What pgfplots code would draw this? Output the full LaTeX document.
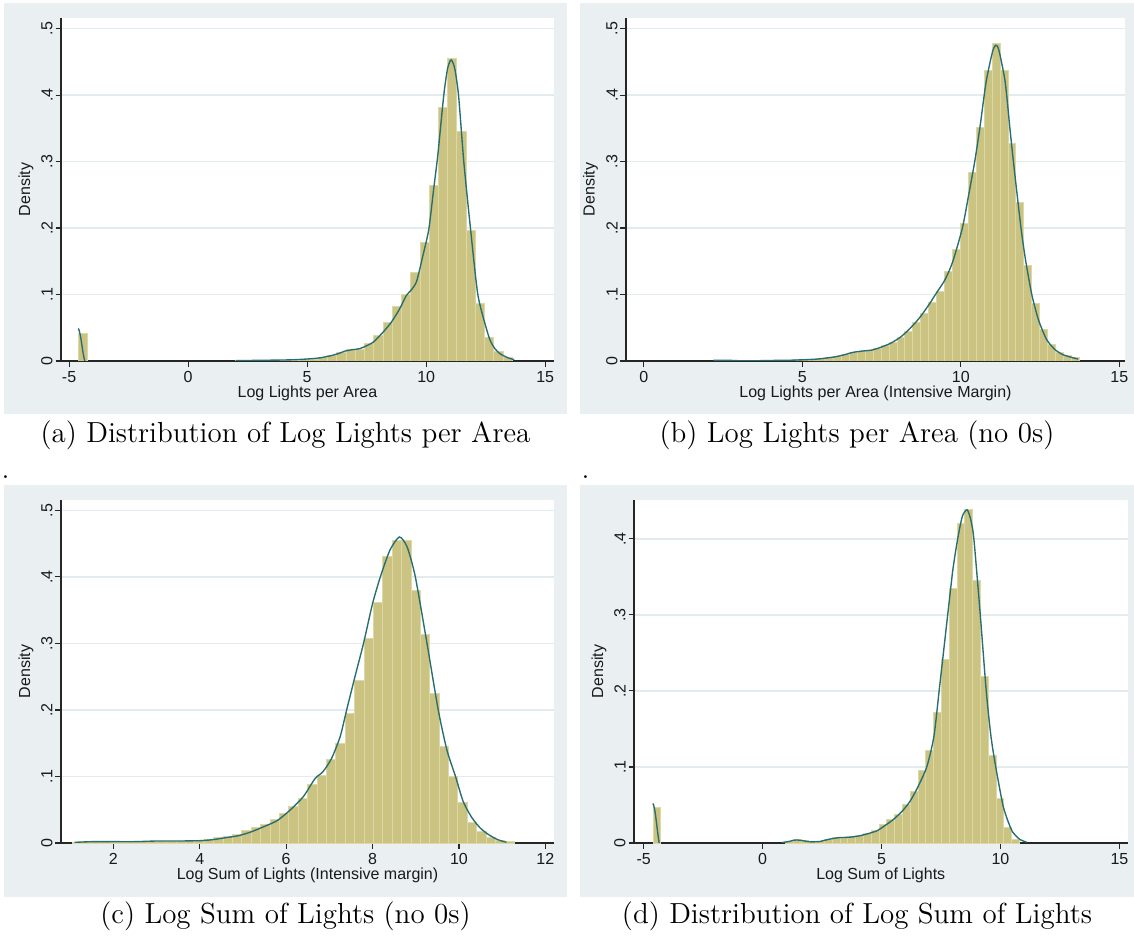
\documentclass[border=0pt]{standalone}
\usepackage{fontspec}
\newfontfamily\statafont{Liberation Sans}
\usepackage{pgfplots}
\pgfplotsset{compat=1.18}
\definecolor{bgc}{RGB}{234,240,242}
\definecolor{gridc}{RGB}{226,236,238}
\definecolor{barc}{RGB}{202,195,129}
\definecolor{barl}{RGB}{222,216,166}
\definecolor{kdc}{RGB}{40,110,112}
\newcommand\sfont{\statafont\fontsize{6.4}{7.5}\selectfont}
\pgfplotsset{
 stata/.style={
  scale only axis,
  axis background/.style={fill=white},
  axis x line*=bottom, axis y line*=left,
  axis line style={black!85, line width=0.45pt},
  tick style={black!85, line width=0.45pt},
  tick align=outside, major tick length=2.2pt,
  ymajorgrids,
  grid style={gridc, line width=0.6pt},
  ymin=0,
  tick label style={font=\sfont, text=black!90},
  xticklabel style={inner sep=1pt, yshift=-0.6pt},
  yticklabel style={rotate=90, anchor=south, inner sep=1pt, xshift=0pt},
  every axis y label/.style={at={(axis description cs:-0.071,0.5)}, rotate=90, anchor=center, inner sep=0pt, font=\sfont, text=black!90},
  every axis x label/.style={at={(axis description cs:0.5,-0.093)}, anchor=center, inner sep=0pt, font=\sfont, text=black!90},
  ylabel={Density},
 },
 hist/.style={ybar interval, fill=barc, draw=barl, line width=0.4pt},
 kd/.style={kdc, line width=0.55pt, smooth, tension=0.4, mark=none},
}
\begin{document}
\begin{tikzpicture}
\useasboundingbox (0,0) rectangle (453.6pt,378.4pt);
\fill[bgc] (1.6pt,212.8pt) rectangle (226.8pt,377.2pt);
\fill[bgc] (232pt,212.8pt) rectangle (453.6pt,377.2pt);
\fill[bgc] (1.6pt,19.6pt) rectangle (226.8pt,184.4pt);
\fill[bgc] (232pt,19.6pt) rectangle (453.6pt,184.4pt);

% (a)
\begin{axis}[stata, at={(24.4pt,234pt)}, anchor=south west, width=197.2pt, height=137.2pt,
 xmin=-5.34, xmax=15.37, ymax=0.516,
 xtick={-5,0,5,10,15}, xticklabels={-5,0,5,10,15},
 ytick={0,0.1,0.2,0.3,0.4,0.5}, yticklabels={0,.1,.2,.3,.4,.5},
 xlabel={Log Lights per Area}]
\addplot[hist] coordinates {(-4.61,0.042) (-4.222,0.042)};
\addplot[hist] coordinates {(1.984,0.001) (2.372,0.001) (2.760,0.001) (3.148,0.001) (3.536,0.001) (3.924,0.001) (4.312,0.001) (4.700,0.002) (5.088,0.003) (5.475,0.005) (5.863,0.008) (6.251,0.013) (6.639,0.017) (7.027,0.018) (7.415,0.027) (7.803,0.038) (8.191,0.058) (8.579,0.082) (8.967,0.100) (9.354,0.133) (9.742,0.179) (10.130,0.264) (10.518,0.382) (10.906,0.455) (11.294,0.346) (11.682,0.197) (12.070,0.087) (12.458,0.035) (12.846,0.014) (13.233,0.005) (13.621,0)};
\addplot[kd] coordinates {(-4.61,0.049) (-4.57,0.045) (-4.52,0.037) (-4.47,0.026) (-4.42,0.014) (-4.38,0.006) (-4.34,0)};
\addplot[kd] coordinates {(2.0,0.0005) (3.0,0.001) (4.0,0.0015) (4.5,0.002) (5.0,0.003) (5.5,0.0045) (6.0,0.008) (6.3,0.011) (6.6,0.015) (6.9,0.017) (7.2,0.0185) (7.5,0.023) (7.8,0.029) (8.18,0.043) (8.53,0.058) (8.88,0.078) (9.16,0.098) (9.4,0.108) (9.6,0.12) (9.86,0.158) (10.11,0.198) (10.32,0.26) (10.49,0.31) (10.74,0.4) (10.9,0.44) (11.05,0.453) (11.2,0.44) (11.36,0.4) (11.58,0.3) (11.86,0.2) (12.17,0.1) (12.52,0.05) (12.7,0.03) (12.9,0.018) (13.1,0.011) (13.3,0.007) (13.5,0.004) (13.7,0.002)};
\end{axis}

% (b)
\begin{axis}[stata, at={(250.4pt,234pt)}, anchor=south west, width=199.6pt, height=137.2pt,
 xmin=-0.56, xmax=15.18, ymax=0.516,
 xtick={0,5,10,15}, xticklabels={0,5,10,15},
 ytick={0,0.1,0.2,0.3,0.4,0.5}, yticklabels={0,.1,.2,.3,.4,.5},
 xlabel={Log Lights per Area (Intensive Margin)}]
\addplot[hist] coordinates {(2.24,0.001) (2.49,0.001) (2.74,0.0003) (2.99,0.0003) (3.24,0.0003) (3.49,0.0003) (3.74,0.0003) (3.99,0.001) (4.24,0.001) (4.49,0.001) (4.74,0.002) (4.99,0.002) (5.24,0.003) (5.49,0.004) (5.74,0.005) (5.99,0.007) (6.24,0.010) (6.49,0.013) (6.74,0.015) (6.99,0.016) (7.24,0.019) (7.49,0.023) (7.74,0.028) (7.99,0.036) (8.24,0.045) (8.49,0.058) (8.74,0.072) (8.99,0.088) (9.24,0.105) (9.49,0.135) (9.74,0.168) (9.99,0.207) (10.24,0.283) (10.49,0.352) (10.74,0.437) (10.99,0.478) (11.24,0.437) (11.49,0.327) (11.74,0.238) (11.99,0.144) (12.24,0.086) (12.49,0.048) (12.74,0.025) (12.99,0.013) (13.24,0.008) (13.49,0.005) (13.74,0)};
\addplot[kd] coordinates {(2.2,0.001) (2.6,0.0012) (3.0,0.0004) (3.5,0.0003) (4.0,0.0008) (4.5,0.001) (5.0,0.0018) (5.5,0.003) (6.0,0.006) (6.3,0.009) (6.6,0.013) (6.9,0.015) (7.2,0.0165) (7.5,0.021) (7.8,0.027) (8.1,0.036) (8.4,0.049) (8.7,0.065) (9.0,0.085) (9.2,0.1) (9.5,0.122) (9.75,0.15) (10.05,0.2) (10.25,0.25) (10.44,0.3) (10.6,0.35) (10.8,0.42) (11.0,0.465) (11.1,0.475) (11.2,0.468) (11.4,0.42) (11.55,0.35) (11.66,0.3) (11.9,0.2) (12.05,0.15) (12.24,0.1) (12.45,0.062) (12.7,0.033) (12.95,0.018) (13.2,0.01) (13.45,0.006) (13.7,0.003)};
\end{axis}

% (c)
\begin{axis}[stata, at={(24.4pt,41.2pt)}, anchor=south west, width=197.2pt, height=137.2pt,
 xmin=0.787, xmax=12.2, ymax=0.5156,
 xtick={2,4,6,8,10,12}, xticklabels={2,4,6,8,10,12},
 ytick={0,0.1,0.2,0.3,0.4,0.5}, yticklabels={0,.1,.2,.3,.4,.5},
 xlabel={Log Sum of Lights (Intensive margin)}]
\addplot[hist] coordinates {(1.06,0.001) (1.2775,0.002) (1.495,0.002) (1.7125,0.002) (1.93,0.001) (2.1475,0.001) (2.365,0.001) (2.5825,0.002) (2.8,0.002) (3.0175,0.003) (3.235,0.003) (3.4525,0.003) (3.67,0.003) (3.8875,0.004) (4.105,0.005) (4.3225,0.008) (4.54,0.010) (4.7575,0.013) (4.975,0.019) (5.1925,0.024) (5.41,0.028) (5.6275,0.036) (5.845,0.045) (6.0625,0.055) (6.28,0.067) (6.4975,0.088) (6.715,0.101) (6.9325,0.125) (7.15,0.150) (7.3675,0.195) (7.585,0.244) (7.8025,0.307) (8.02,0.361) (8.2375,0.431) (8.455,0.455) (8.6725,0.455) (8.89,0.380) (9.1075,0.313) (9.325,0.224) (9.5425,0.145) (9.76,0.100) (9.9775,0.061) (10.195,0.031) (10.4125,0.018) (10.63,0.008) (10.8475,0.004) (11.065,0.002) (11.2825,0)};
\addplot[kd] coordinates {(1.1,0.001) (1.5,0.002) (2.0,0.002) (2.5,0.002) (3.0,0.003) (3.5,0.003) (4.0,0.0035) (4.3,0.005) (4.6,0.008) (4.9,0.011) (5.2,0.017) (5.5,0.025) (5.8,0.034) (6.1,0.05) (6.4,0.07) (6.67,0.097) (6.85,0.107) (7.05,0.127) (7.25,0.16) (7.4,0.2) (7.6,0.252) (7.79,0.3) (8.0,0.36) (8.18,0.4) (8.4,0.44) (8.62,0.46) (8.8,0.445) (8.99,0.4) (9.26,0.3) (9.52,0.2) (9.72,0.14) (9.92,0.1) (10.1,0.062) (10.3,0.038) (10.5,0.022) (10.7,0.012) (10.9,0.005) (11.1,0.001)};
\end{axis}

% (d)
\begin{axis}[stata, at={(253.6pt,41.2pt)}, anchor=south west, width=197.4pt, height=137.2pt,
 xmin=-5.41, xmax=15.34, ymax=0.451,
 xtick={-5,0,5,10,15}, xticklabels={-5,0,5,10,15},
 ytick={0,0.1,0.2,0.3,0.4}, yticklabels={0,.1,.2,.3,.4},
 xlabel={Log Sum of Lights}]
\addplot[hist] coordinates {(-4.61,0.047) (-4.282,0.047)};
\addplot[hist] coordinates {(0.963,0.002) (1.290,0.004) (1.618,0.003) (1.946,0.001) (2.274,0.002) (2.602,0.005) (2.929,0.007) (3.257,0.007) (3.585,0.008) (3.913,0.010) (4.241,0.013) (4.568,0.016) (4.896,0.024) (5.224,0.031) (5.552,0.037) (5.880,0.051) (6.207,0.068) (6.535,0.095) (6.863,0.122) (7.191,0.172) (7.519,0.241) (7.846,0.334) (8.174,0.420) (8.502,0.438) (8.830,0.345) (9.158,0.219) (9.485,0.115) (9.813,0.058) (10.141,0.020) (10.469,0.005) (10.797,0)};
\addplot[kd] coordinates {(-4.61,0.052) (-4.57,0.048) (-4.52,0.04) (-4.47,0.028) (-4.42,0.015) (-4.38,0.006) (-4.35,0)};
\addplot[kd] coordinates {(0.8,0.0005) (1.1,0.002) (1.4,0.004) (1.7,0.003) (2.0,0.0015) (2.4,0.002) (2.8,0.005) (3.2,0.007) (3.6,0.0075) (4.0,0.009) (4.4,0.012) (4.8,0.016) (5.1,0.022) (5.5,0.031) (5.9,0.043) (6.2,0.055) (6.5,0.072) (6.9,0.1) (7.2,0.14) (7.42,0.2) (7.6,0.25) (7.78,0.3) (8.0,0.36) (8.2,0.4) (8.4,0.43) (8.6,0.438) (8.75,0.425) (8.88,0.4) (9.15,0.3) (9.4,0.2) (9.6,0.14) (9.8,0.1) (10.1,0.05) (10.3,0.03) (10.5,0.015) (10.8,0.005) (11.1,0.001)};
\end{axis}

\node[font=\fontsize{11.6}{13.9}\selectfont, inner sep=0] at (114.2pt,204.4pt) {(a) Distribution of Log Lights per Area};
\node[font=\fontsize{11.6}{13.9}\selectfont, inner sep=0] at (342.8pt,204.4pt) {(b) Log Lights per Area (no 0s)};
\node[font=\fontsize{11.6}{13.9}\selectfont, inner sep=0] at (114.2pt,12pt) {(c) Log Sum of Lights (no 0s)};
\node[font=\fontsize{11.6}{13.9}\selectfont, inner sep=0] at (342.8pt,12pt) {(d) Distribution of Log Sum of Lights};
\node[font=\fontsize{11.6}{13.9}\selectfont, inner sep=0, anchor=base west] at (0.4pt,187pt) {.};
\node[font=\fontsize{11.6}{13.9}\selectfont, inner sep=0, anchor=base west] at (232.4pt,187pt) {.};
\end{tikzpicture}
\end{document}
